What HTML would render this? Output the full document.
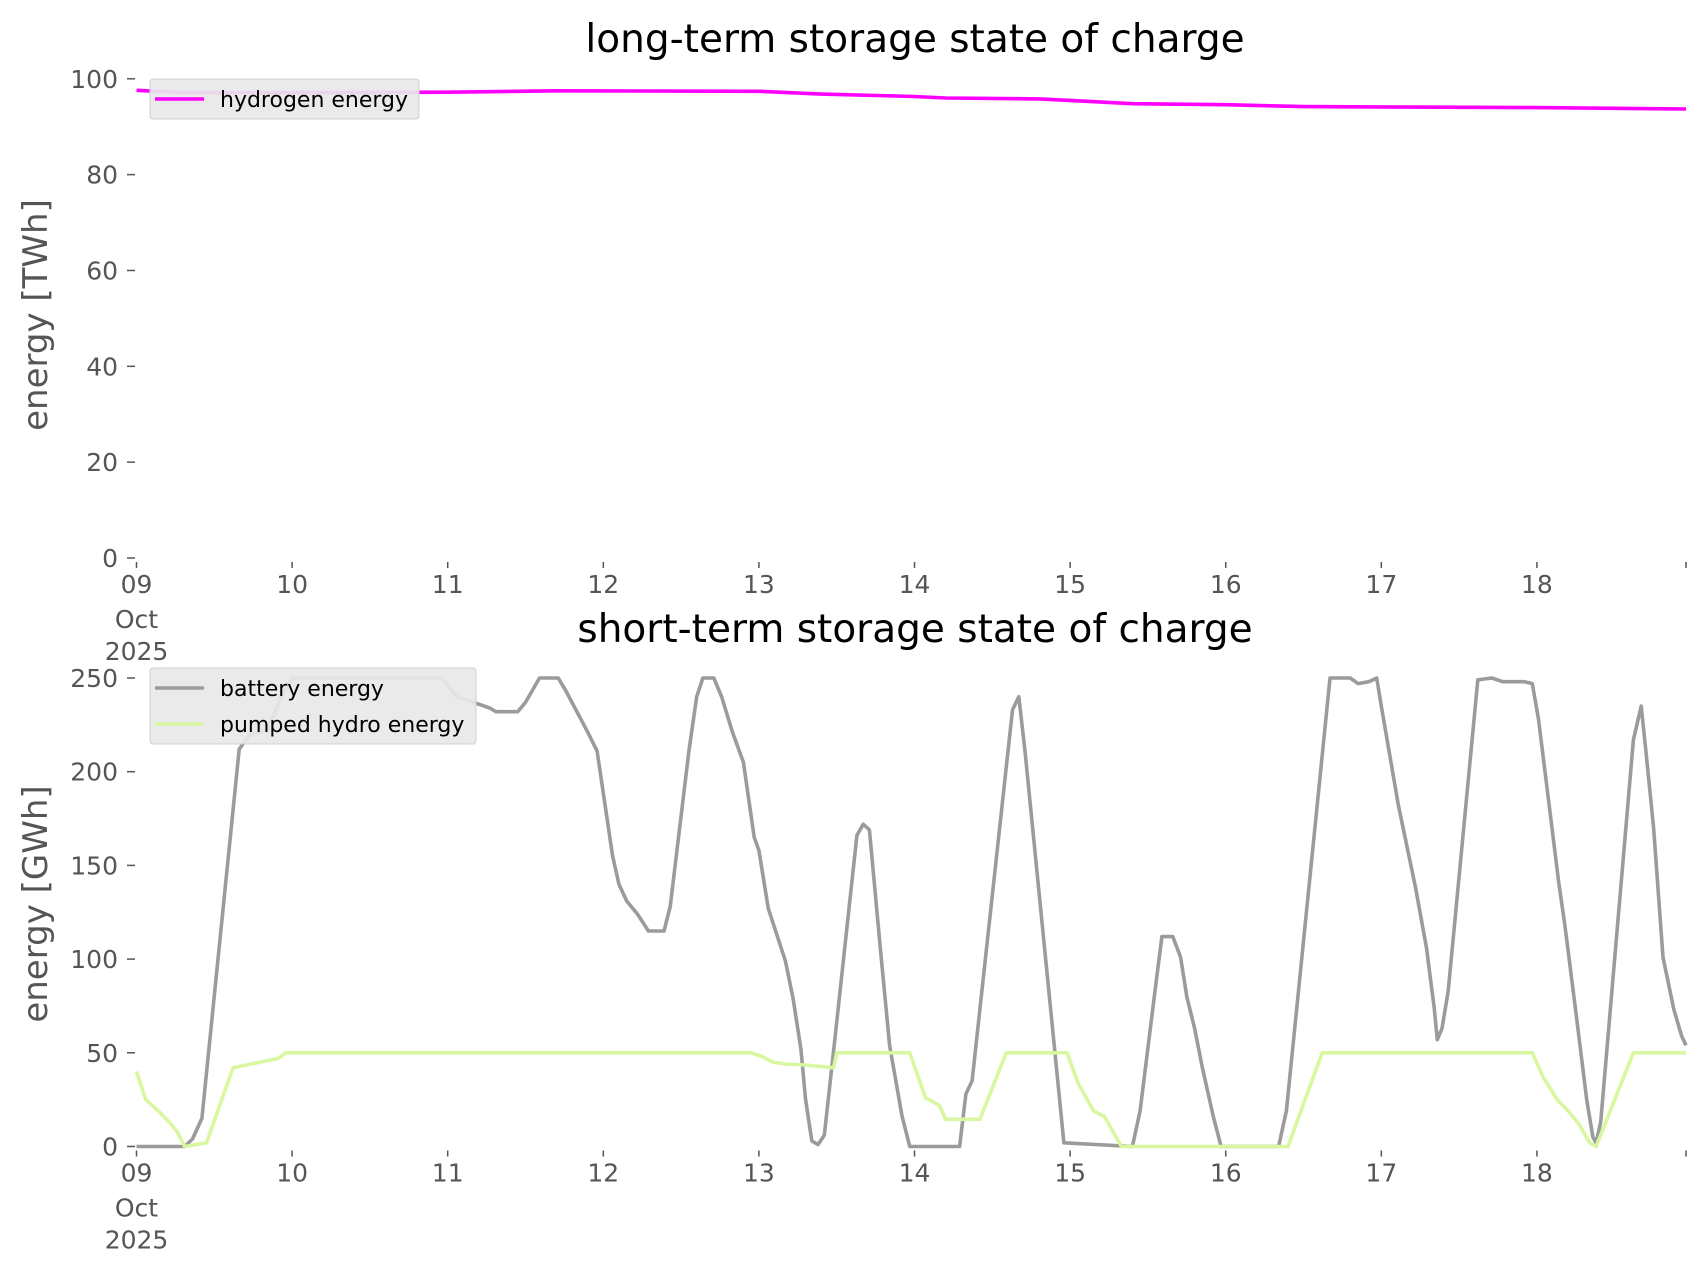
<!DOCTYPE html>
<html><head><meta charset="utf-8">
<style>
html,body{margin:0;padding:0;background:#fff;}
svg{display:block;font-family:"DejaVu Sans","Liberation Sans",sans-serif;}
</style></head>
<body>
<svg id="chart" width="1706" height="1277" viewBox="0 0 1706 1277"></svg>
<script>
// ---- data (x in days since 09 Oct 2025 00:00) ----
const dayLabels = ["09","10","11","12","13","14","15","16","17","18"];
const h2Days = [0,0.3,1,2,2.7,4,4.4,5,5.2,5.8,6,6.4,7,7.5,8.2,9,9.958];
const h2Vals = [97.6,97.1,97.1,97.2,97.5,97.4,96.8,96.3,96.0,95.8,95.5,94.8,94.6,94.2,94.1,94.0,93.7];
const batDays = [0,0.31,0.36,0.42,0.66,0.73,0.84,0.93,1.0,1.96,2.06,2.27,2.31,2.45,2.5,2.59,2.71,2.76,2.83,2.9,2.96,3.06,3.1,3.15,3.22,3.29,3.39,3.43,3.55,3.6,3.64,3.71,3.76,3.83,3.9,3.97,4.0,4.06,4.17,4.22,4.27,4.3,4.34,4.38,4.42,4.48,4.63,4.67,4.71,4.78,4.84,4.92,4.97,5.29,5.33,5.37,5.63,5.67,5.71,5.96,6.4,6.45,6.55,6.59,6.66,6.71,6.75,6.8,6.85,6.92,6.97,7.34,7.39,7.67,7.8,7.85,7.92,7.97,8.0,8.11,8.22,8.29,8.34,8.36,8.39,8.43,8.62,8.71,8.78,8.92,8.97,9.01,9.07,9.14,9.18,9.25,9.32,9.36,9.38,9.41,9.62,9.67,9.7,9.75,9.81,9.88,9.93,9.958];
const batVals = [0,0,4,15,212,220,222,240,250,250,240,234,232,232,237,250,250,243,232,221,211,155,140,131,124,115,115,128,211,240,250,250,240,221,205,165,158,127,99,79,52,25,3,1,6,51,166,172,169,106,54,16,0,0,28,35,233,240,211,2,0,19,86,112,112,101,80,63,42,16,0,0,19,250,250,247,248,250,235,182,138,106,74,57,63,83,249,250,248,248,247,228,188,141,118,72,25,5,2,13,217,235,211,170,101,73,59,54];
const phDays = [0,0.06,0.14,0.21,0.26,0.31,0.45,0.62,0.91,0.96,3.95,4.02,4.09,4.17,4.3,4.48,4.5,4.97,5.07,5.16,5.2,5.42,5.59,5.98,6.05,6.15,6.22,6.33,7.4,7.62,8.97,9.04,9.13,9.2,9.27,9.34,9.38,9.62,9.958];
const phVals = [40,25,19,13,8,0,2,42,47,50,50,48,45,44,43.5,42,50,50,26,22,14.5,14.5,50,50,34,19,16,0,0,50,50,37,25,19,12,2,0,50,50];
const h2Ticks = [0,20,40,60,80,100];
const batTicks = [0,50,100,150,200,250];

const NS="http://www.w3.org/2000/svg";
const svg=document.getElementById('chart');
const X0=136.5, X1=1686, XMAX=9.958;
const xs=d=>X0+(X1-X0)*d/XMAX;
function el(tag,attrs,parent,text){const e=document.createElementNS(NS,tag);for(const k in attrs)e.setAttribute(k,attrs[k]);if(text!==undefined)e.textContent=text;(parent||svg).appendChild(e);return e;}

function panel(cfg){
  const g=el('g',{});
  
  
  const ys=v=>cfg.yBot-(cfg.yBot-cfg.yTop)*v/cfg.yMax;
  const t=el('text',{x:915,y:cfg.titleY,'text-anchor':'middle','font-size':39,fill:'#000'},g,cfg.title);
  
  
  const yl=el('text',{x:0,y:0,'text-anchor':'middle','font-size':34,fill:'#555',transform:`translate(47,${cfg.ylabelY}) rotate(-90)`},g,cfg.ylabel);
  
  
  cfg.yTicks.forEach(v=>{
    const y=ys(v);
    el('line',{x1:127,x2:135,y1:y,y2:y,stroke:'#555','stroke-width':1.5},g);
    const tl=el('text',{x:118,y:y+9,'text-anchor':'end','font-size':25,fill:'#555'},g,String(v));
    
    
  });
  for(let i=0;i<=dayLabels.length;i++){
    const d=Math.min(i,XMAX), x=xs(d);
    el('line',{x1:x,x2:x,y1:cfg.yBot+4,y2:cfg.yBot+10,stroke:'#555','stroke-width':1.5},g);
    if(i<dayLabels.length){
      const tl=el('text',{x:x,y:cfg.yBot+35,'text-anchor':'middle','font-size':25,fill:'#555'},g,dayLabels[i]);
      
      
    }
  }
  el('text',{x:xs(0),y:cfg.yBot+70,'text-anchor':'middle','font-size':25,fill:'#555'},g,'Oct');
  el('text',{x:xs(0),y:cfg.yBot+102,'text-anchor':'middle','font-size':25,fill:'#555'},g,'2025');
  cfg.series.forEach(s=>{
    const pts=s.days.map((d,i)=>xs(d).toFixed(1)+','+ys(s.vals[i]).toFixed(1)).join(' ');
    const p=el('polyline',{points:pts,fill:'none',stroke:s.color,'stroke-width':3.6,'stroke-linejoin':'round'},g);
    
    
  });
  const lg=el('g',{},g);
  
  
  el('rect',{x:150,y:cfg.legY,width:cfg.legW,height:cfg.series.length*36+4,rx:3,fill:'#e8e8e8','fill-opacity':0.92,stroke:'#d0d0d0','stroke-width':1},lg);
  cfg.series.forEach((s,i)=>{
    const y=cfg.legY+20+i*36;
    el('line',{x1:155,x2:204,y1:y,y2:y,stroke:s.color,'stroke-width':3.5},lg);
    const lt=el('text',{x:220,y:y+8,'font-size':22,fill:'#000'},lg,s.label);
    
    
  });
}

panel({name:'long-term-panel',title:'long-term storage state of charge',titleY:52,ylabel:'energy [TWh]',ylabelY:315,
  yTop:78.8,yBot:558,yMax:100,yTicks:h2Ticks,legY:79,legW:269,
  series:[{name:'hydrogen-line',label:'hydrogen energy',color:'#ff00ff',days:h2Days,vals:h2Vals}]});
panel({name:'short-term-panel',title:'short-term storage state of charge',titleY:642,ylabel:'energy [GWh]',ylabelY:904,
  yTop:678,yBot:1146.5,yMax:250,yTicks:batTicks,legY:668,legW:326,
  series:[{name:'battery-line',label:'battery energy',color:'#9b9b9b',days:batDays,vals:batVals},
          {name:'pumped-hydro-line',label:'pumped hydro energy',color:'#d9f7a0',days:phDays,vals:phVals}]});
</script>
</body></html>
